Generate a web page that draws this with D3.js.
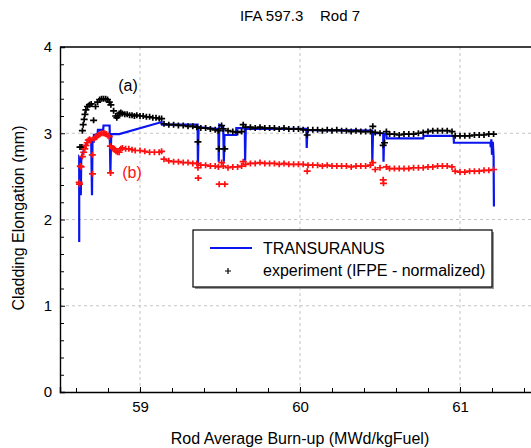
<!DOCTYPE html>
<html>
<head>
<meta charset="utf-8">
<script src="https://cdn.jsdelivr.net/npm/d3@7"></script>
<style>
    body { margin: 0; background: #fff; }
    svg text { font-family: "Liberation Sans", Arial, sans-serif; fill: #000; }
</style>
</head>
<body>
<div class="elongation"></div>
<script>
// chart values
const title = 'IFA 597.3\u00a0\u00a0\u00a0 Rod 7'
const xTicks = [59, 60, 61]
const yTicks = [0, 1, 2, 3, 4]
const xDomain = [58.5, 61.5]
const yDomain = [0, 4]

// TRANSURANUS calculation [burn-up, elongation]
const transuranus = [
    [58.62, 1.74], [58.62, 2.72], [58.628, 2.70], [58.63, 2.28], [58.633, 2.72], [58.645, 2.78],
    [58.66, 2.86], [58.675, 2.91], [58.695, 2.92], [58.70, 2.28], [58.703, 2.90], [58.71, 2.90],
    [58.712, 2.98], [58.735, 2.99], [58.737, 3.04], [58.77, 3.04], [58.772, 3.09], [58.81, 3.09],
    [58.815, 2.54], [58.82, 2.99], [58.87, 2.99], [59.135, 3.13], [59.137, 3.10], [59.36, 3.10],
    [59.362, 2.62], [59.366, 3.07], [59.49, 3.05], [59.492, 2.67], [59.496, 3.10], [59.52, 3.08],
    [59.524, 2.67], [59.528, 2.98], [59.60, 2.98], [59.602, 3.06], [59.655, 3.06], [59.657, 2.68],
    [59.661, 3.05], [60.04, 3.05], [60.042, 2.83], [60.046, 3.04], [60.45, 3.03], [60.452, 2.66],
    [60.456, 3.00], [60.52, 3.00], [60.522, 2.67], [60.526, 2.99], [60.54, 2.99], [60.542, 2.94],
    [60.77, 2.94], [60.772, 2.97], [60.96, 2.97], [60.962, 2.89], [61.19, 2.89], [61.192, 2.84],
    [61.196, 2.93], [61.20, 2.75], [61.205, 2.90], [61.21, 2.72], [61.212, 2.15]
]

// experiment (a)
const expA = [
    [58.625, 2.84], [58.637, 2.84], [58.64, 3.03], [58.645, 3.10], [58.651, 3.16], [58.656, 3.22],
    [58.662, 3.27], [58.672, 3.31], [58.684, 3.33], [58.695, 3.34], [58.71, 3.15], [58.722, 3.31],
    [58.735, 3.36], [58.748, 3.39], [58.76, 3.40], [58.772, 3.40], [58.785, 3.40], [58.797, 3.39],
    [58.808, 3.36], [58.818, 3.33], [58.835, 3.26], [58.848, 3.20], [58.855, 3.18], [58.862, 3.20],
    [58.87, 3.23], [58.88, 3.24], [58.89, 3.23], [58.905, 3.22], [58.92, 3.22], [58.935, 3.21],
    [58.95, 3.21], [58.965, 3.20], [58.98, 3.21], [59.0, 3.20], [59.02, 3.20], [59.04, 3.19],
    [59.06, 3.19], [59.08, 3.18], [59.10, 3.18], [59.12, 3.17], [59.135, 3.17], [59.15, 3.11],
    [59.18, 3.10], [59.21, 3.10], [59.24, 3.09], [59.27, 3.09], [59.30, 3.08], [59.33, 3.08],
    [59.355, 3.07], [59.362, 2.90], [59.38, 3.06], [59.41, 3.06], [59.44, 3.05], [59.47, 3.04],
    [59.49, 3.03], [59.494, 2.82], [59.51, 3.09], [59.52, 3.05], [59.53, 2.82], [59.55, 3.03],
    [59.58, 3.02], [59.61, 3.01], [59.635, 3.02], [59.645, 3.10], [59.66, 3.07], [59.69, 3.07],
    [59.72, 3.06], [59.75, 3.07], [59.78, 3.06], [59.81, 3.06], [59.84, 3.06], [59.87, 3.05],
    [59.90, 3.06], [59.93, 3.05], [59.96, 3.05], [59.99, 3.05], [60.02, 3.04], [60.045, 2.98],
    [60.05, 3.04], [60.08, 3.04], [60.11, 3.04], [60.14, 3.03], [60.17, 3.04], [60.20, 3.03],
    [60.23, 3.04], [60.26, 3.03], [60.29, 3.03], [60.32, 3.02], [60.35, 3.03], [60.38, 3.02],
    [60.41, 3.02], [60.44, 3.02], [60.455, 3.08], [60.47, 3.01], [60.50, 3.00], [60.52, 2.86],
    [60.528, 2.89], [60.54, 3.02], [60.56, 2.99], [60.59, 2.99], [60.62, 2.98], [60.65, 2.99],
    [60.68, 2.99], [60.71, 2.99], [60.74, 3.00], [60.77, 3.01], [60.80, 3.02], [60.83, 3.03],
    [60.86, 3.03], [60.89, 3.03], [60.92, 3.03], [60.95, 3.02], [60.97, 2.97], [61.00, 2.97],
    [61.03, 2.97], [61.06, 2.97], [61.09, 2.98], [61.12, 2.98], [61.15, 2.98], [61.18, 2.99],
    [61.21, 2.99]
]

// experiment (b)
const expB = [
    [58.62, 2.43], [58.622, 2.41], [58.627, 2.62], [58.632, 2.61], [58.64, 2.73], [58.648, 2.78],
    [58.655, 2.82], [58.663, 2.86], [58.67, 2.89], [58.677, 2.92], [58.685, 2.93], [58.693, 2.92],
    [58.702, 2.75], [58.703, 2.53], [58.71, 2.93], [58.72, 2.95], [58.73, 2.96], [58.74, 2.98],
    [58.75, 2.99], [58.76, 3.00], [58.77, 3.00], [58.78, 3.00], [58.79, 2.99], [58.80, 2.97],
    [58.808, 2.96], [58.815, 2.85], [58.816, 2.54], [58.83, 2.83], [58.84, 2.82], [58.85, 2.79],
    [58.86, 2.78], [58.87, 2.78], [58.88, 2.82], [58.89, 2.83], [58.91, 2.82], [58.93, 2.82],
    [58.95, 2.81], [58.97, 2.80], [59.0, 2.80], [59.03, 2.79], [59.06, 2.78], [59.09, 2.78],
    [59.12, 2.78], [59.135, 2.79], [59.15, 2.70], [59.18, 2.68], [59.21, 2.67], [59.24, 2.67],
    [59.27, 2.66], [59.30, 2.66], [59.33, 2.65], [59.355, 2.65], [59.362, 2.60], [59.364, 2.48],
    [59.38, 2.63], [59.41, 2.63], [59.44, 2.62], [59.47, 2.62], [59.49, 2.61], [59.495, 2.41],
    [59.51, 2.66], [59.52, 2.62], [59.53, 2.41], [59.55, 2.60], [59.58, 2.61], [59.61, 2.61],
    [59.635, 2.62], [59.645, 2.67], [59.66, 2.64], [59.69, 2.65], [59.72, 2.65], [59.75, 2.66],
    [59.78, 2.65], [59.81, 2.65], [59.84, 2.65], [59.87, 2.64], [59.90, 2.65], [59.93, 2.64],
    [59.96, 2.64], [59.99, 2.64], [60.02, 2.64], [60.045, 2.56], [60.05, 2.63], [60.08, 2.63],
    [60.11, 2.63], [60.14, 2.62], [60.17, 2.63], [60.20, 2.62], [60.23, 2.62], [60.26, 2.62],
    [60.29, 2.62], [60.32, 2.61], [60.35, 2.62], [60.38, 2.62], [60.41, 2.62], [60.44, 2.63],
    [60.455, 2.66], [60.47, 2.58], [60.50, 2.60], [60.52, 2.46], [60.522, 2.42], [60.54, 2.61],
    [60.56, 2.59], [60.59, 2.59], [60.62, 2.59], [60.65, 2.59], [60.68, 2.59], [60.71, 2.60],
    [60.74, 2.60], [60.77, 2.60], [60.80, 2.61], [60.83, 2.61], [60.86, 2.62], [60.89, 2.62],
    [60.92, 2.62], [60.95, 2.61], [60.97, 2.56], [61.00, 2.55], [61.03, 2.55], [61.06, 2.56],
    [61.09, 2.56], [61.12, 2.56], [61.15, 2.57], [61.18, 2.57], [61.21, 2.58]
]

const margin = { top: 47, left: 60 }
const width = 480
const height = 345

const svg = d3.select('.elongation')
    .append('svg')
    .attr('width', 531)
    .attr('height', 448)

const x = d3.scaleLinear().domain(xDomain).range([0, width])
const y = d3.scaleLinear().domain(yDomain).range([height, 0])

const g = svg.append('g')
    .attr('transform', `translate(${margin.left}, ${margin.top})`)

g.append('clipPath')
    .attr('id', 'plot-clip')
    .append('rect')
    .attr('width', width)
    .attr('height', height)

// dashed grid
const grid = g.append('g').attr('class', 'grid')
grid.selectAll('.vgrid')
    .data(xTicks)
    .enter()
    .append('line')
    .attr('x1', d => x(d)).attr('x2', d => x(d))
    .attr('y1', 0).attr('y2', height)
grid.selectAll('.hgrid')
    .data(yTicks.filter(d => d > 0 && d < 4))
    .enter()
    .append('line')
    .attr('x1', 0).attr('x2', width)
    .attr('y1', d => y(d)).attr('y2', d => y(d))
grid.selectAll('line')
    .attr('stroke', '#c4c4c4')
    .attr('stroke-width', 1)
    .attr('stroke-dasharray', '3,3')

const plot = g.append('g').attr('clip-path', 'url(#plot-clip)')

plot.append('path')
    .datum(transuranus)
    .attr('fill', 'none')
    .attr('stroke', '#0a14ee')
    .attr('stroke-width', 2.2)
    .attr('stroke-linejoin', 'miter')
    .attr('d', d3.line().x(d => x(d[0])).y(d => y(d[1])))

const plus = 'M-3.5,0H3.5M0,-3V3'
const drawPoints = (data, color) => {
    plot.append('g')
        .selectAll('path')
        .data(data)
        .enter()
        .append('path')
        .attr('d', plus)
        .attr('transform', d => `translate(${x(d[0])}, ${y(d[1])})`)
        .attr('stroke', color)
        .attr('stroke-width', 1.7)
}
drawPoints(expA, '#000')
drawPoints(expB, '#ff1010')

// axes, ticks inward
const minorX = d3.range(58.6, 61.45, 0.2).filter(v => !xTicks.some(t => Math.abs(t - v) < 1e-6))
const minorY = d3.range(0.2, 4, 0.2).filter(v => !yTicks.some(t => Math.abs(t - v) < 1e-6))

g.append('g')
    .attr('transform', `translate(0, ${height})`)
    .call(d3.axisBottom(x).tickValues(xTicks).tickSize(-5).tickPadding(9).tickFormat(d3.format('d')))
g.append('g')
    .attr('transform', `translate(0, ${height})`)
    .call(d3.axisBottom(x).tickValues(minorX).tickSize(-4).tickFormat(''))
    .select('.domain').remove()

g.append('g')
    .call(d3.axisLeft(y).tickValues(yTicks).tickSize(-5).tickPadding(8).tickFormat(d3.format('d')))
g.append('g')
    .call(d3.axisLeft(y).tickValues(minorY).tickSize(-4).tickFormat(''))
    .select('.domain').remove()

g.selectAll('.domain').attr('stroke', '#000').attr('stroke-width', 1.4)
g.selectAll('.tick line').attr('stroke', '#000')
g.selectAll('.tick text')
    .style('font-size', '15px')
    .style('font-family', '"Liberation Sans", Arial, sans-serif')

// top frame
g.append('line')
    .attr('x1', 0).attr('x2', width)
    .attr('y1', 0).attr('y2', 0)
    .attr('stroke', '#000')
    .attr('stroke-width', 1.4)

// titles
svg.append('text')
    .attr('x', 300).attr('y', 21)
    .attr('text-anchor', 'middle')
    .style('font-size', '15px')
    .text(title)

svg.append('text')
    .attr('x', 300).attr('y', 444)
    .attr('text-anchor', 'middle')
    .style('font-size', '16px')
    .text('Rod Average Burn-up (MWd/kgFuel)')

svg.append('text')
    .attr('transform', 'translate(24, 218) rotate(-90)')
    .attr('text-anchor', 'middle')
    .style('font-size', '16px')
    .text('Cladding Elongation (mm)')

// series labels
svg.append('text')
    .attr('x', 128).attr('y', 91)
    .attr('text-anchor', 'middle')
    .style('font-size', '16px')
    .text('(a)')
svg.append('text')
    .attr('x', 132).attr('y', 178)
    .attr('text-anchor', 'middle')
    .style('font-size', '16px')
    .style('fill', '#ff1010')
    .text('(b)')

// legend
const legend = svg.append('g').attr('transform', 'translate(193, 230)')
legend.append('rect')
    .attr('x', 2).attr('y', 2)
    .attr('width', 299).attr('height', 57)
    .attr('fill', '#999')
legend.append('rect')
    .attr('width', 299).attr('height', 57)
    .attr('fill', '#fff')
    .attr('stroke', '#000')
    .attr('stroke-width', 1.2)
legend.append('line')
    .attr('x1', 17).attr('x2', 59)
    .attr('y1', 18).attr('y2', 18)
    .attr('stroke', '#0a14ee')
    .attr('stroke-width', 2)
legend.append('text')
    .attr('x', 70).attr('y', 24)
    .style('font-size', '16px')
    .text('TRANSURANUS')
legend.append('path')
    .attr('d', 'M-3,0H3M0,-3V3')
    .attr('transform', 'translate(35, 41)')
    .attr('stroke', '#000')
    .attr('stroke-width', 1.2)
legend.append('text')
    .attr('x', 70).attr('y', 46)
    .style('font-size', '16px')
    .text('experiment (IFPE - normalized)')
</script>
</body>
</html>
